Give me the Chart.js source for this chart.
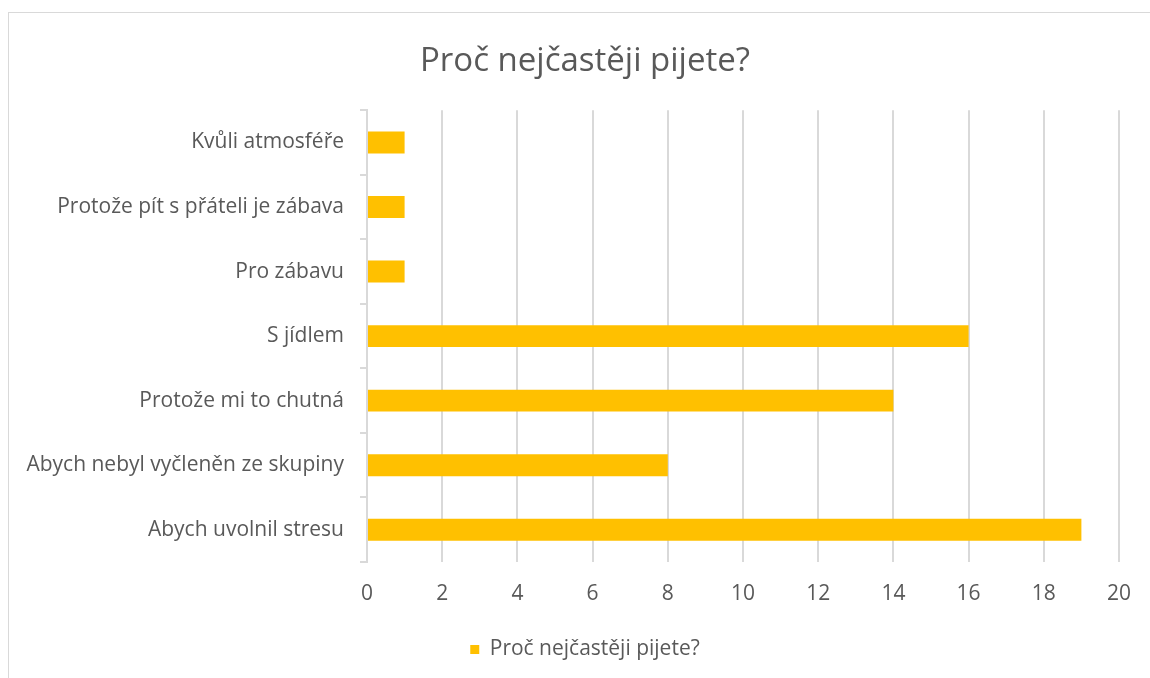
<!DOCTYPE html>
<html>
<head>
<meta charset="utf-8">
<script src="https://cdn.jsdelivr.net/npm/chart.js@4"></script>
<style>
  html, body { margin: 0; padding: 0; background: #fff; overflow: hidden; }
  .frame { position: absolute; left: 8px; top: 12px; width: 1160px; height: 700px; border: 1px solid #d9d9d9; }
  .chart-wrapper { position: absolute; left: 0; top: 0; width: 1150px; height: 678px; }
</style>
</head>
<body>
<div class="frame"></div>
<div class="chart-wrapper">
  <canvas id="chart" width="1150" height="678"></canvas>
</div>
<script>
// Data (top to bottom)
const categories = [
  'Kvůli atmosféře',
  'Protože pít s přáteli je zábava',
  'Pro zábavu',
  'S jídlem',
  'Protože mi to chutná',
  'Abych nebyl vyčleněn ze skupiny',
  'Abych uvolnil stresu'
];
const values = [1, 1, 1, 16, 14, 8, 19];
const seriesName = 'Proč nejčastěji pijete?';
const xTicks = [0, 2, 4, 6, 8, 10, 12, 14, 16, 18, 20];

const textColor = '#595959';
const gridColor = '#d9d9d9';
const fontFamily = '"Open Sans", Lato, sans-serif';

// the left padding would clip the long category labels, so widen the y axis box again
const unclipLabels = {
  id: 'unclipLabels',
  afterLayout(chart) {
    chart.scales.y.left = 0;
  }
};

const ctx = document.getElementById('chart').getContext('2d');

new Chart(ctx, {
  type: 'bar',
  data: {
    labels: categories,
    datasets: [{
      label: seriesName,
      data: values,
      backgroundColor: '#FFC000',
      borderWidth: 0,
      barPercentage: 0.34,
      categoryPercentage: 1
    }]
  },
  plugins: [unclipLabels],
  options: {
    indexAxis: 'y',
    responsive: false,
    animation: false,
    layout: {
      // left padding shifts title and legend centre to the right like the original
      padding: { top: 0, right: 30, bottom: 8, left: 50 }
    },
    plugins: {
      title: {
        display: true,
        text: seriesName,
        color: textColor,
        font: { family: fontFamily, size: 33, weight: 'normal' },
        padding: { top: 42, bottom: 28.6 }
      },
      legend: {
        position: 'bottom',
        labels: {
          color: textColor,
          font: { family: fontFamily, size: 21 },
          boxWidth: 9,
          boxHeight: 9,
          padding: 12
        }
      },
      tooltip: { enabled: false }
    },
    scales: {
      x: {
        min: 0,
        max: 20,
        afterBuildTicks: (scale) => {
          scale.ticks = xTicks.map(v => ({ value: v }));
        },
        grid: {
          color: gridColor,
          lineWidth: 2,
          drawTicks: false
        },
        border: { display: false },
        ticks: {
          color: textColor,
          font: { family: fontFamily, size: 21 },
          padding: 19
        },
        afterFit: (scale) => { scale.height = 65; }
      },
      y: {
        grid: {
          offset: true,
          drawOnChartArea: false,
          drawTicks: true,
          tickLength: 7,
          color: gridColor,
          lineWidth: 2
        },
        border: { display: true, color: gridColor, width: 2 },
        ticks: {
          color: textColor,
          font: { family: fontFamily, size: 21 },
          padding: 16
        },
        afterFit: (scale) => { scale.width = 317; }
      }
    }
  }
});
</script>
</body>
</html>
